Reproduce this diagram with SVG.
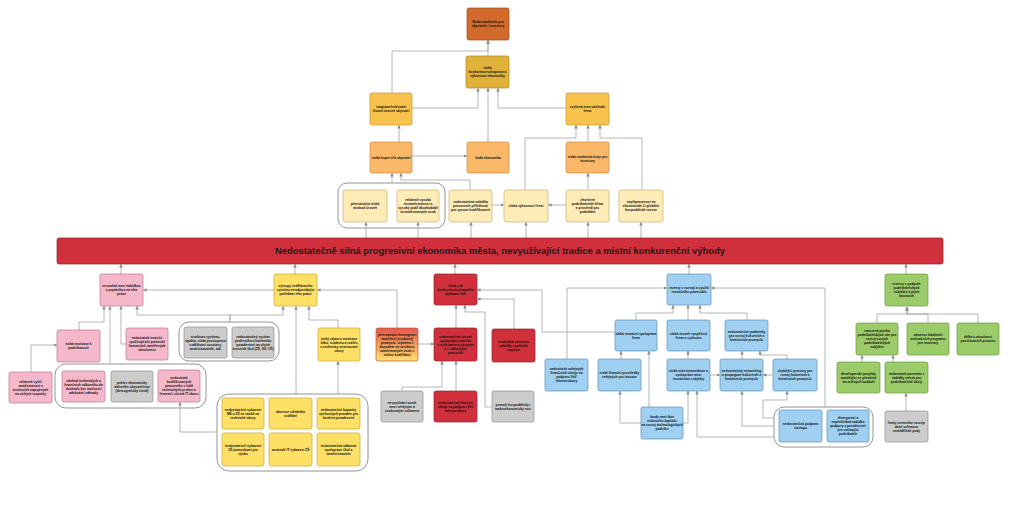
<svg xmlns="http://www.w3.org/2000/svg" width="1024" height="510" viewBox="0 0 1024 510">
<style>
.n{stroke-width:0.7}
.c0{fill:#D26A2C;stroke:#9C4A1A}
.c1{fill:#E0B23A;stroke:#A8842A}
.c2{fill:#F8C34C;stroke:#C8962E}
.c3{fill:#FAB868;stroke:#C88A48}
.c4{fill:#FFEBB5;stroke:#C8B07A}
.pk{fill:#F5B8CB;stroke:#B87890}
.ye{fill:#FFE066;stroke:#C8A830}
.rd{fill:#D0303C;stroke:#9A1E28}
.gy{fill:#CCCCCC;stroke:#8E8E8E}
.bl{fill:#9FD0F2;stroke:#5E90B8}
.gr{fill:#9CCB6A;stroke:#6A9844}
.grp{fill:#FFFFFF;stroke:#7A7A7A;stroke-width:0.8}
.t{font-family:"Liberation Sans",Arial,sans-serif;font-size:3.3px;font-weight:bold;text-anchor:middle;fill:#111}
.big{font-family:"Liberation Sans",Arial,sans-serif;font-size:9px;font-weight:bold;text-anchor:middle;fill:#1A1A1A}
.l{fill:none;stroke:#A3A3A3;stroke-width:0.8;marker-end:url(#ah)}
</style>
<defs>
<marker id="ah" viewBox="0 0 6 6" markerWidth="3.5" markerHeight="3.5" markerUnits="userSpaceOnUse" refX="6" refY="3" orient="auto">
<path d="M0,0 L6,3 L0,6 z" fill="#8A8A8A"/>
</marker>
<linearGradient id="og" x1="0" y1="0" x2="0" y2="1">
<stop offset="0" stop-color="#E8574A"/>
<stop offset="0.5" stop-color="#F29A5A"/>
<stop offset="1" stop-color="#FFE070"/>
</linearGradient>
</defs>
<rect width="1024" height="510" fill="#FFFFFF"/>

<g id="containers">
<rect class="grp" x="338" y="183" width="107" height="45" rx="9"/>
<rect class="grp" x="55" y="364" width="151" height="44" rx="11"/>
<rect class="grp" x="179" y="322" width="100" height="39" rx="10"/>
<rect class="grp" x="217" y="394" width="151" height="77" rx="12"/>
<rect class="grp" x="774" y="407" width="99" height="40" rx="10"/>
</g>

<g id="connectors">
<path class="l" d="M488,56 V40"/>
<path class="l" d="M392,93 V51 H488 V40"/>
<path class="l" d="M412,108 H478 V88"/>
<path class="l" d="M488,142 V88"/>
<path class="l" d="M566,108 H498 V88"/>
<path class="l" d="M399,142 V125"/>
<path class="l" d="M412,156 H467"/>
<path class="l" d="M392,183 V173"/>
<path class="l" d="M470,190 V180 H401 V173"/>
<path class="l" d="M525,190 V138 H576 V125"/>
<path class="l" d="M588,142 V125"/>
<path class="l" d="M642,190 V138 H600 V125"/>
<path class="l" d="M588,190 V173"/>
<path class="l" d="M566,205 H548"/>
<path class="l" d="M492,205 H504"/>
<path class="l" d="M366,238 V222"/>
<path class="l" d="M418,238 V222"/>
<path class="l" d="M471,238 V222"/>
<path class="l" d="M526,238 V222"/>
<path class="l" d="M588,238 V222"/>
<path class="l" d="M641,238 V222"/>
<path class="l" d="M121,274 V264"/>
<path class="l" d="M295,274 V264"/>
<path class="l" d="M455,274 V264"/>
<path class="l" d="M689,274 V264"/>
<path class="l" d="M906,274 V264"/>
<path class="l" d="M274,290 H143"/>
<path class="l" d="M79,330 V322 H104 V306"/>
<path class="l" d="M110,364 V306"/>
<path class="l" d="M126,344 H121 V306"/>
<path class="l" d="M230,322 V315 H137 V306"/>
<path class="l" d="M230,322 V315 H283 V306"/>
<path class="l" d="M31,372 V345 H57"/>
<path class="l" d="M217,432 H180 V402"/>
<path class="l" d="M338,328 V320 H309 V306"/>
<path class="l" d="M296,394 V306"/>
<path class="l" d="M338,394 V361"/>
<path class="l" d="M397,328 V290 H317"/>
<path class="l" d="M456,328 V305"/>
<path class="l" d="M418,344 H434"/>
<path class="l" d="M402,391 V387 H442 V361"/>
<path class="l" d="M456,391 V361"/>
<path class="l" d="M492,407 H485 V312 H465 V305"/>
<path class="l" d="M514,329 V299 H477"/>
<path class="l" d="M615,332 H542 V290 H477"/>
<path class="l" d="M567,359 V288 H667"/>
<path class="l" d="M636,320 V313 H673 V305"/>
<path class="l" d="M688,320 V305"/>
<path class="l" d="M747,320 V313 H700 V305"/>
<path class="l" d="M825,407 V288 H711"/>
<path class="l" d="M621,359 V351"/>
<path class="l" d="M649,407 V351"/>
<path class="l" d="M641,423 H620 V391"/>
<path class="l" d="M683,423 H688 V391"/>
<path class="l" d="M774,437 H697 V391"/>
<path class="l" d="M688,359 V351"/>
<path class="l" d="M742,359 V351"/>
<path class="l" d="M787,359 V355 H760 V351"/>
<path class="l" d="M774,426 H742 V391"/>
<path class="l" d="M774,418 H763 V400 H787 V391"/>
<path class="l" d="M710,375 H720"/>
<path class="l" d="M773,375 H763"/>
<path class="l" d="M877,323 V314 H907 V307"/>
<path class="l" d="M928,323 V314 H907 V307"/>
<path class="l" d="M978,323 V314 H907 V307"/>
<path class="l" d="M862,362 V355"/>
<path class="l" d="M893,362 V355"/>
<path class="l" d="M906,411 V393"/>
</g>

<g id="n1"><rect class="n c0" x="467" y="8" width="42" height="32" rx="2"/><text class="t"><tspan x="488" y="23.2">Nízká atraktivita pro</tspan><tspan x="488" y="27.2">obyvatele i investory</tspan></text></g>
<g id="n2"><rect class="n c1" x="466" y="56" width="43" height="32" rx="2"/><text class="t"><tspan x="487.5" y="69.2">nízká</tspan><tspan x="487.5" y="73.2">konkurenceschopnost a</tspan><tspan x="487.5" y="77.2">výkonnost ekonomiky</tspan></text></g>
<g id="n3"><rect class="n c2" x="370" y="93" width="42" height="32" rx="2"/><text class="t"><tspan x="391" y="108.2">stagnace/snižování</tspan><tspan x="391" y="112.2">životní úrovně obyvatel</tspan></text></g>
<g id="n4"><rect class="n c2" x="566" y="93" width="43" height="32" rx="2"/><text class="t"><tspan x="587.5" y="108.2">zvýšená míra odchodu</tspan><tspan x="587.5" y="112.2">firem</tspan></text></g>
<g id="n5"><rect class="n c3" x="370" y="142" width="42" height="31" rx="2"/><text class="t"><tspan x="391" y="158.7">nízká kupní síla obyvatel</tspan></text></g>
<g id="n6"><rect class="n c3" x="467" y="142" width="42" height="31" rx="2"/><text class="t"><tspan x="488" y="158.7">šedá ekonomika</tspan></text></g>
<g id="n7"><rect class="n c3" x="566" y="142" width="43" height="31" rx="2"/><text class="t"><tspan x="587.5" y="157.7">nízká atraktivita kraje pro</tspan><tspan x="587.5" y="161.7">investory</tspan></text></g>
<g id="n8"><rect class="n c4" x="343" y="190" width="44" height="32" rx="2"/><text class="t"><tspan x="365" y="205.2">přetrvávající nízká</tspan><tspan x="365" y="209.2">mzdová úroveň</tspan></text></g>
<g id="n9"><rect class="n c4" x="397" y="190" width="42" height="32" rx="2"/><text class="t"><tspan x="418" y="201.2">relativně vysoká</tspan><tspan x="418" y="205.2">nezaměstnanost a</tspan><tspan x="418" y="209.2">vysoký podíl dlouhodobě</tspan><tspan x="418" y="213.2">nezaměstnaných osob</tspan></text></g>
<g id="n10"><rect class="n c4" x="449" y="190" width="43" height="32" rx="2"/><text class="t"><tspan x="470.5" y="203.2">nedostatečná nabídka</tspan><tspan x="470.5" y="207.2">pracovních příležitostí</tspan><tspan x="470.5" y="211.2">pro vysoce kvalifikované</tspan></text></g>
<g id="n11"><rect class="n c4" x="504" y="190" width="44" height="32" rx="2"/><text class="t"><tspan x="526" y="207.2">slabá výkonnost firem</tspan></text></g>
<g id="n12"><rect class="n c4" x="566" y="190" width="43" height="32" rx="2"/><text class="t"><tspan x="587.5" y="201.2">zhoršené</tspan><tspan x="587.5" y="205.2">podnikatelské klima</tspan><tspan x="587.5" y="209.2">a prostředí pro</tspan><tspan x="587.5" y="213.2">podnikání</tspan></text></g>
<g id="n13"><rect class="n c4" x="619" y="190" width="44" height="32" rx="2"/><text class="t"><tspan x="641" y="203.2">nepřipravenost na</tspan><tspan x="641" y="207.2">ekonomické či globální</tspan><tspan x="641" y="211.2">hospodářské recese</tspan></text></g>

<g id="banner"><rect class="rd" x="57" y="238" width="886" height="26" rx="2" stroke-width="0.7"/><text class="big" x="500" y="253.5" textLength="450" lengthAdjust="spacingAndGlyphs">Nedostatečně silná progresivní ekonomika města, nevyužívající tradice a místní konkurenční výhody</text></g>

<g id="p1"><rect class="n pk" x="100" y="274" width="43" height="32" rx="2"/><text class="t"><tspan x="121.5" y="287.2">nesoulad mezi nabídkou</tspan><tspan x="121.5" y="291.2">a poptávkou na trhu</tspan><tspan x="121.5" y="295.2">práce</tspan></text></g>
<g id="y1"><rect class="n ye" x="274" y="274" width="43" height="32" rx="2"/><text class="t"><tspan x="295.5" y="287.2">výstupy vzdělávacího</tspan><tspan x="295.5" y="291.2">systému neodpovídající</tspan><tspan x="295.5" y="295.2">potřebám trhu práce</tspan></text></g>
<g id="r1"><rect class="n rd" x="434" y="274" width="43" height="31" rx="2"/><text class="t"><tspan x="455.5" y="286.7">slabá role</tspan><tspan x="455.5" y="290.7">konkurenceschopného</tspan><tspan x="455.5" y="294.7">výzkumu VaV</tspan></text></g>
<g id="b1"><rect class="n bl" x="667" y="274" width="44" height="31" rx="2"/><text class="t"><tspan x="689" y="288.7">rezervy v rozvoji a využití</tspan><tspan x="689" y="292.7">inovačního potenciálu</tspan></text></g>
<g id="gr1"><rect class="n gr" x="885" y="274" width="43" height="32" rx="2"/><text class="t"><tspan x="906.5" y="285.2">rezervy v podpoře</tspan><tspan x="906.5" y="289.2">podnikatelských</tspan><tspan x="906.5" y="293.2">subjektů a jejich</tspan><tspan x="906.5" y="297.2">inovacích</tspan></text></g>

<g id="p2"><rect class="n pk" x="57" y="330" width="43" height="32" rx="2"/><text class="t"><tspan x="78.5" y="345.2">nízká motivace k</tspan><tspan x="78.5" y="349.2">podnikavosti</tspan></text></g>
<g id="p3"><rect class="n pk" x="126" y="328" width="42" height="32" rx="2"/><text class="t"><tspan x="147" y="339.2">nedostatek investic</tspan><tspan x="147" y="343.2">využívajících potenciál</tspan><tspan x="147" y="347.2">humanitně zaměřených</tspan><tspan x="147" y="351.2">absolventů</tspan></text></g>
<g id="p4"><rect class="n pk" x="9" y="372" width="43" height="31" rx="2"/><text class="t"><tspan x="30.5" y="382.7">relativně vyšší</tspan><tspan x="30.5" y="386.7">zaměstnanost v</tspan><tspan x="30.5" y="390.7">institucích napojených</tspan><tspan x="30.5" y="394.7">na veřejné rozpočty</tspan></text></g>
<g id="p5"><rect class="n pk" x="62" y="371" width="43" height="31" rx="2"/><text class="t"><tspan x="83.5" y="381.7">odchod technických a</tspan><tspan x="83.5" y="385.7">finančních odborníků do</tspan><tspan x="83.5" y="389.7">důchodu bez možnosti</tspan><tspan x="83.5" y="393.7">adekvátní náhrady</tspan></text></g>
<g id="gy1"><rect class="n gy" x="111" y="371" width="42" height="31" rx="2"/><text class="t"><tspan x="132" y="383.7">pokles ekonomicky</tspan><tspan x="132" y="387.7">aktivního obyvatelstva</tspan><tspan x="132" y="391.7">(demografický trend)</tspan></text></g>
<g id="p6"><rect class="n pk" x="158" y="370" width="42" height="32" rx="2"/><text class="t"><tspan x="179" y="379.2">nedostatek</tspan><tspan x="179" y="383.2">kvalifikovaných</tspan><tspan x="179" y="387.2">pracovníků v řadě</tspan><tspan x="179" y="391.2">technických profesí a</tspan><tspan x="179" y="395.2">řemesel, včetně IT oborů</tspan></text></g>

<g id="gy2"><rect class="n gy" x="184" y="327" width="43" height="31" rx="2"/><text class="t"><tspan x="205.5" y="337.7">struktura systému,</tspan><tspan x="205.5" y="341.7">rigidita, nízká prostupnost</tspan><tspan x="205.5" y="345.7">vzdělávací soustavy,</tspan><tspan x="205.5" y="349.7">zaměstnavatelé, atd.</tspan></text></g>
<g id="gy3"><rect class="n gy" x="232" y="327" width="42" height="31" rx="2"/><text class="t"><tspan x="253" y="337.7">nedostatečný systém</tspan><tspan x="253" y="341.7">profesního a kariérního</tspan><tspan x="253" y="345.7">poradenství na všech</tspan><tspan x="253" y="349.7">úrovních škol (ZŠ, SŠ, VŠ)</tspan></text></g>
<g id="y2"><rect class="n ye" x="318" y="328" width="42" height="33" rx="2"/><text class="t"><tspan x="339" y="339.7">nízký zájem a motivace</tspan><tspan x="339" y="343.7">žáků, studentů a rodičů</tspan><tspan x="339" y="347.7">o technicky orientované</tspan><tspan x="339" y="351.7">obory</tspan></text></g>
<g id="y3"><rect class="n ye" x="222" y="398" width="42" height="31" rx="2"/><text class="t"><tspan x="243" y="410.7">nedostatečné vybavení</tspan><tspan x="243" y="414.7">MŠ a ZŠ ve vazbě na</tspan><tspan x="243" y="418.7">technické obory</tspan></text></g>
<g id="y4"><rect class="n ye" x="269" y="398" width="43" height="31" rx="2"/><text class="t"><tspan x="290.5" y="412.7">absence středního</tspan><tspan x="290.5" y="416.7">vzdělání</tspan></text></g>
<g id="y5"><rect class="n ye" x="317" y="398" width="43" height="31" rx="2"/><text class="t"><tspan x="338.5" y="410.7">nedostatečné kapacity</tspan><tspan x="338.5" y="414.7">výchovných poraden pro</tspan><tspan x="338.5" y="418.7">kariérní poradenství</tspan></text></g>
<g id="y6"><rect class="n ye" x="222" y="433" width="42" height="33" rx="2"/><text class="t"><tspan x="243" y="446.7">nedostatečné vybavení</tspan><tspan x="243" y="450.7">ZŠ pomůckami pro</tspan><tspan x="243" y="454.7">výuku</tspan></text></g>
<g id="y7"><rect class="n ye" x="269" y="433" width="43" height="33" rx="2"/><text class="t"><tspan x="290.5" y="450.7">zastaralé IT vybavení ZŠ</tspan></text></g>
<g id="y8"><rect class="n ye" x="317" y="433" width="43" height="33" rx="2"/><text class="t"><tspan x="338.5" y="446.7">nedostatečná odborná</tspan><tspan x="338.5" y="450.7">spolupráce škol a</tspan><tspan x="338.5" y="454.7">zaměstnavatelů</tspan></text></g>

<g id="o1"><rect class="n" x="376" y="328" width="42" height="33" rx="2" fill="url(#og)" stroke="#B8583A"/><text class="t"><tspan x="397" y="335.7">přetrvávající homogenní</tspan><tspan x="397" y="339.7">zaměření (struktura)</tspan><tspan x="397" y="343.7">průmyslu, zejména s</tspan><tspan x="397" y="347.7">dopadem na strukturu</tspan><tspan x="397" y="351.7">zaměstnaných osob s</tspan><tspan x="397" y="355.7">nízkou kvalifikací</tspan></text></g>
<g id="r2"><rect class="n rd" x="434" y="328" width="43" height="33" rx="2"/><text class="t"><tspan x="455.5" y="337.7">nedostatečná úroveň</tspan><tspan x="455.5" y="341.7">spolupráce podniků</tspan><tspan x="455.5" y="345.7">s výzkumem a vývojem</tspan><tspan x="455.5" y="349.7">a s vědeckými</tspan><tspan x="455.5" y="353.7">pracovišti</tspan></text></g>
<g id="r3"><rect class="n rd" x="492" y="329" width="43" height="33" rx="2"/><text class="t"><tspan x="513.5" y="342.7">nevhodná struktura</tspan><tspan x="513.5" y="346.7">nabídky z pohledu</tspan><tspan x="513.5" y="350.7">regionu</tspan></text></g>
<g id="gy4"><rect class="n gy" x="381" y="391" width="42" height="31" rx="2"/><text class="t"><tspan x="402" y="403.7">nevyužívání vazeb</tspan><tspan x="402" y="407.7">mezi veřejným a</tspan><tspan x="402" y="411.7">soukromým sektorem</tspan></text></g>
<g id="r4"><rect class="n rd" x="434" y="391" width="43" height="31" rx="2"/><text class="t"><tspan x="455.5" y="403.7">nedostatečné finanční</tspan><tspan x="455.5" y="407.7">zdroje na podporu VaV</tspan><tspan x="455.5" y="411.7">infrastruktury</tspan></text></g>
<g id="gy5"><rect class="n gy" x="492" y="391" width="42" height="31" rx="2"/><text class="t"><tspan x="513" y="405.7">pomalý hospodářský i</tspan><tspan x="513" y="409.7">makroekonomický růst</tspan></text></g>

<g id="b2"><rect class="n bl" x="615" y="320" width="42" height="31" rx="2"/><text class="t"><tspan x="636" y="334.7">slabá inovační spolupráce</tspan><tspan x="636" y="338.7">firem</tspan></text></g>
<g id="b3"><rect class="n bl" x="667" y="320" width="43" height="31" rx="2"/><text class="t"><tspan x="688.5" y="334.7">slabá úroveň vyspělosti</tspan><tspan x="688.5" y="338.7">firem a výzkumu</tspan></text></g>
<g id="b4"><rect class="n bl" x="725" y="320" width="43" height="31" rx="2"/><text class="t"><tspan x="746.5" y="332.7">nedostatečné podmínky</tspan><tspan x="746.5" y="336.7">pro rozvoj kulturních a</tspan><tspan x="746.5" y="340.7">kreativních průmyslů</tspan></text></g>
<g id="b5"><rect class="n bl" x="545" y="359" width="43" height="32" rx="2"/><text class="t"><tspan x="566.5" y="370.2">nedostatek veřejných</tspan><tspan x="566.5" y="374.2">finančních zdrojů na</tspan><tspan x="566.5" y="378.2">podporu VaV</tspan><tspan x="566.5" y="382.2">infrastruktury</tspan></text></g>
<g id="b6"><rect class="n bl" x="598" y="359" width="43" height="32" rx="2"/><text class="t"><tspan x="619.5" y="374.2">nízké finanční prostředky</tspan><tspan x="619.5" y="378.2">veřejných pro inovace</tspan></text></g>
<g id="b7"><rect class="n bl" x="667" y="359" width="43" height="32" rx="2"/><text class="t"><tspan x="688.5" y="372.2">nízká míra komunikace a</tspan><tspan x="688.5" y="376.2">spolupráce mezi</tspan><tspan x="688.5" y="380.2">inovačními subjekty</tspan></text></g>
<g id="b8"><rect class="n bl" x="720" y="359" width="43" height="32" rx="2"/><text class="t"><tspan x="741.5" y="372.2">nedostatečný networking</tspan><tspan x="741.5" y="376.2">a propagace kulturních a</tspan><tspan x="741.5" y="380.2">kreativních průmyslů</tspan></text></g>
<g id="b9"><rect class="n bl" x="773" y="359" width="44" height="32" rx="2"/><text class="t"><tspan x="795" y="372.2">chybějící prostory pro</tspan><tspan x="795" y="376.2">rozvoj kulturních a</tspan><tspan x="795" y="380.2">kreativních průmyslů</tspan></text></g>
<g id="b10"><rect class="n bl" x="641" y="407" width="42" height="32" rx="2"/><text class="t"><tspan x="662" y="418.2">fondy rané fáze</tspan><tspan x="662" y="422.2">rizikového kapitálu</tspan><tspan x="662" y="426.2">na rozvoj technologických</tspan><tspan x="662" y="430.2">podniků</tspan></text></g>
<g id="b11"><rect class="n bl" x="779" y="410" width="43" height="32" rx="2"/><text class="t"><tspan x="800.5" y="425.2">nedostatečná podpora</tspan><tspan x="800.5" y="429.2">startupů</tspan></text></g>
<g id="b12"><rect class="n bl" x="827" y="410" width="42" height="32" rx="2"/><text class="t"><tspan x="848" y="419.2">divergentní a</tspan><tspan x="848" y="423.2">nepřehledná nabídka</tspan><tspan x="848" y="427.2">podpory a poradenství</tspan><tspan x="848" y="431.2">pro začínající</tspan><tspan x="848" y="435.2">podnikatele</tspan></text></g>

<g id="gr2"><rect class="n gr" x="856" y="323" width="42" height="32" rx="2"/><text class="t"><tspan x="877" y="332.2">omezená plocha</tspan><tspan x="877" y="336.2">podnikatelských zón pro</tspan><tspan x="877" y="340.2">rozvoj nových</tspan><tspan x="877" y="344.2">podnikatelských</tspan><tspan x="877" y="348.2">subjektů</tspan></text></g>
<g id="gr3"><rect class="n gr" x="907" y="323" width="42" height="32" rx="2"/><text class="t"><tspan x="928" y="336.2">absence lokálních</tspan><tspan x="928" y="340.2">motivačních programů</tspan><tspan x="928" y="344.2">pro investory</tspan></text></g>
<g id="gr4"><rect class="n gr" x="957" y="323" width="42" height="32" rx="2"/><text class="t"><tspan x="978" y="338.2">délka a náročnost</tspan><tspan x="978" y="342.2">povolovacích procesů</tspan></text></g>
<g id="gr5"><rect class="n gr" x="837" y="362" width="43" height="31" rx="2"/><text class="t"><tspan x="858.5" y="374.7">developerské projekty</tspan><tspan x="858.5" y="378.7">zaměřující se převážně</tspan><tspan x="858.5" y="382.7">na zelených loukách</tspan></text></g>
<g id="gr6"><rect class="n gr" x="885" y="362" width="43" height="31" rx="2"/><text class="t"><tspan x="906.5" y="374.7">nedostatek pozemků z</tspan><tspan x="906.5" y="378.7">nabídky města pro</tspan><tspan x="906.5" y="382.7">podnikatelské účely</tspan></text></g>
<g id="gy6"><rect class="n gy" x="885" y="411" width="43" height="31" rx="2"/><text class="t"><tspan x="906.5" y="423.7">limity územního rozvoje</tspan><tspan x="906.5" y="427.7">dané ochranou</tspan><tspan x="906.5" y="431.7">zemědělské půdy</tspan></text></g>
</svg>
